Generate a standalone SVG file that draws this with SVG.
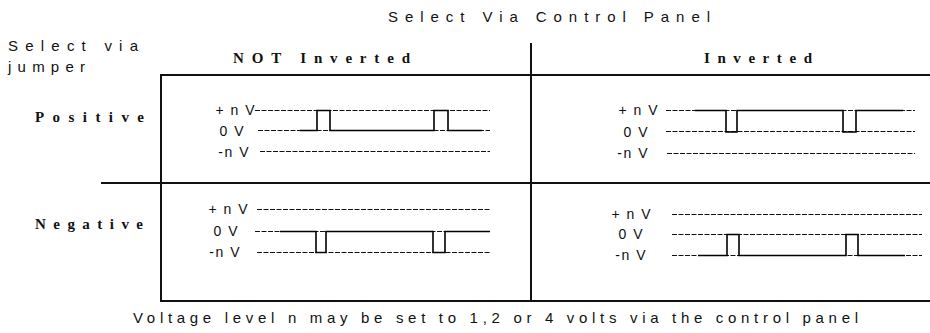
<svg xmlns="http://www.w3.org/2000/svg" width="930" height="333" viewBox="0 0 930 333">
  <style>
    .sans { font-family: "Liberation Sans", Arial, sans-serif; fill: #111; }
    .hdr { font-family: "Liberation Serif", "Times New Roman", serif; font-weight: bold; font-size: 15px; fill: #111; }
    .top { font-size: 15px; }
    .lvl { font-size: 14px; text-anchor: end; letter-spacing: 1.5px; }
    .grid { stroke: #111; stroke-width: 2; fill: none; }
    .ref { stroke: #111; stroke-width: 1; stroke-dasharray: 5 1.5; fill: none; }
    .sig { stroke: #000; stroke-width: 1.6; fill: none; stroke-linejoin: miter; }
  </style>

  <!-- headings -->
  <g id="headings">
    <text class="sans top" x="388" y="22" textLength="322" lengthAdjust="spacing">Select Via Control Panel</text>
    <text class="sans top" x="8" y="51" textLength="130" lengthAdjust="spacing">Select via</text>
    <text class="sans top" x="8" y="72" textLength="77" lengthAdjust="spacing">jumper</text>
    <text class="hdr" x="233" y="63" textLength="177" lengthAdjust="spacing">NOT Inverted</text>
    <text class="hdr" x="704" y="63" textLength="108" lengthAdjust="spacing">Inverted</text>
    <text class="hdr" x="35" y="122" textLength="109" lengthAdjust="spacing">Positive</text>
    <text class="hdr" x="35" y="229" textLength="108" lengthAdjust="spacing">Negative</text>
  </g>

  <!-- table rules -->
  <g id="grid" class="grid">
    <line x1="161" y1="75" x2="930" y2="75"/>
    <line x1="101" y1="183" x2="930" y2="183"/>
    <line x1="161" y1="301" x2="930" y2="301"/>
    <line x1="161" y1="74" x2="161" y2="302"/>
    <line x1="531" y1="43" x2="531" y2="302"/>
  </g>

  <!-- positive, not inverted: pulses up from 0 V -->
  <g id="pos-not-inverted">
    <text class="sans lvl" x="256" y="115">+ n V</text>
    <text class="sans lvl" x="245" y="136">0 V</text>
    <text class="sans lvl" x="250" y="157">-n V</text>
    <line class="ref" x1="255" y1="110.5" x2="490" y2="110.5"/>
    <line class="ref" x1="258" y1="130.5" x2="490" y2="130.5"/>
    <line class="ref" x1="260" y1="151.5" x2="490" y2="151.5"/>
    <path class="sig" d="M300 130.5 H317 V110.5 H330 V130.5 H434 V110.5 H448 V130.5 H482"/>
  </g>

  <!-- positive, inverted: sits at +n V, pulses down to 0 V -->
  <g id="pos-inverted">
    <text class="sans lvl" x="659" y="115">+ n V</text>
    <text class="sans lvl" x="649" y="137">0 V</text>
    <text class="sans lvl" x="649" y="158">-n V</text>
    <line class="ref" x1="666" y1="110.5" x2="915" y2="110.5"/>
    <line class="ref" x1="666" y1="131.5" x2="915" y2="131.5"/>
    <line class="ref" x1="667" y1="153.5" x2="915" y2="153.5"/>
    <path class="sig" d="M695 110.5 H726 V132 H737 V110.5 H843 V132 H856 V110.5 H903"/>
  </g>

  <!-- negative, not inverted: sits at 0 V, pulses down to -n V -->
  <g id="neg-not-inverted">
    <text class="sans lvl" x="249" y="214">+ n V</text>
    <text class="sans lvl" x="239" y="236">0 V</text>
    <text class="sans lvl" x="241" y="257">-n V</text>
    <line class="ref" x1="257" y1="209.5" x2="490" y2="209.5"/>
    <line class="ref" x1="255" y1="231.5" x2="490" y2="231.5"/>
    <line class="ref" x1="257" y1="252.5" x2="490" y2="252.5"/>
    <path class="sig" d="M280 231.5 H316 V252.5 H326 V231.5 H433 V252.5 H445 V231.5 H490"/>
  </g>

  <!-- negative, inverted: sits at -n V, pulses up to 0 V -->
  <g id="neg-inverted">
    <text class="sans lvl" x="652" y="219">+ n V</text>
    <text class="sans lvl" x="644" y="239">0 V</text>
    <text class="sans lvl" x="647" y="260">-n V</text>
    <line class="ref" x1="672" y1="214.5" x2="922" y2="214.5"/>
    <line class="ref" x1="672" y1="234.5" x2="922" y2="234.5"/>
    <line class="ref" x1="672" y1="255.5" x2="922" y2="255.5"/>
    <path class="sig" d="M698 255.5 H727 V234.5 H739 V255.5 H846 V234.5 H858 V255.5 H905"/>
  </g>

  <!-- footnote -->
  <text id="footnote" class="sans top" x="133" y="323" textLength="725" lengthAdjust="spacing">Voltage level n may be set to 1,2 or 4 volts via the control panel</text>
</svg>
